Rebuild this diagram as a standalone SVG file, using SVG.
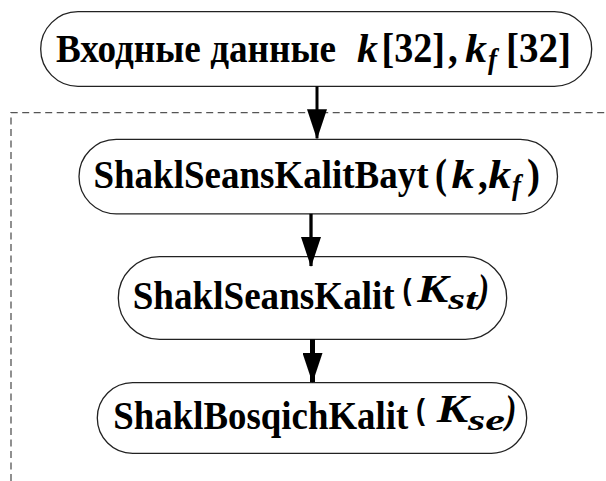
<svg xmlns="http://www.w3.org/2000/svg" width="606" height="481" viewBox="0 0 606 481">
<defs>
<style>
.box{fill:#fff;stroke:#222;stroke-width:1.3}
.t{font-family:"Liberation Serif","Times New Roman",serif;font-weight:bold;font-size:37px;fill:#000}
.m{font-style:normal;font-size:39px}
.mi{font-style:italic;font-size:37px}
.sub{font-style:italic;font-size:27px}
.ps{font-family:"Liberation Sans",Arial,sans-serif;font-style:normal;font-size:27px}
.ar{stroke:#000;fill:none}
.dash{fill:none;stroke:#555;stroke-width:1.3;stroke-dasharray:7 4.5}
</style>
<marker id="ah" markerUnits="userSpaceOnUse" markerWidth="30" markerHeight="20" refX="29" refY="10" orient="auto" viewBox="0 0 30 20">
<path d="M0,0 L30,10 L0,20 Z" fill="#000"/>
</marker>
</defs>
<path class="dash" d="M11,481 V112.7 H606"/>
<g id="n1">
<rect class="box" x="40.7" y="11.7" width="551" height="74.6" rx="37.3" ry="37.3"/>
<text class="t" transform="translate(0,62) scale(1,1.08) translate(0,-62)"><tspan x="56" y="62" textLength="280" lengthAdjust="spacingAndGlyphs">Входные данные</tspan><tspan class="mi" x="357" y="62" textLength="21" lengthAdjust="spacingAndGlyphs">k</tspan><tspan class="m" x="381.5" y="62" textLength="63.5" lengthAdjust="spacingAndGlyphs">[32]</tspan><tspan class="m" x="448" y="62">,</tspan><tspan class="mi" x="465" y="62" textLength="22" lengthAdjust="spacingAndGlyphs">k</tspan><tspan class="sub" x="488" y="68.5">f</tspan><tspan class="m" x="506" y="62" textLength="65" lengthAdjust="spacingAndGlyphs">[32]</tspan></text>
</g>
<g id="n2">
<rect class="box" x="79" y="139.3" width="478.5" height="74.5" rx="37.2" ry="37.2"/>
<text class="t" transform="translate(0,188) scale(1,1.08) translate(0,-188)"><tspan x="93.5" y="188" textLength="335" lengthAdjust="spacingAndGlyphs">ShaklSeansKalitBayt</tspan><tspan class="m" x="435" y="188" textLength="12" lengthAdjust="spacingAndGlyphs">(</tspan><tspan class="mi" x="451.5" y="188" textLength="23" lengthAdjust="spacingAndGlyphs">k</tspan><tspan class="m" x="478" y="188">,</tspan><tspan class="mi" x="488.3" y="188" textLength="23" lengthAdjust="spacingAndGlyphs">k</tspan><tspan class="sub" x="512" y="194.5">f</tspan><tspan class="m" x="527" y="188" textLength="13" lengthAdjust="spacingAndGlyphs">)</tspan></text>
</g>
<g id="n3">
<rect class="box" x="118.3" y="256.7" width="388.4" height="82.6" rx="41.3" ry="41.3"/>
<text class="t" transform="translate(0,309.3) scale(1,1.08) translate(0,-309.3)"><tspan x="132.7" y="309.3" textLength="262" lengthAdjust="spacingAndGlyphs">ShaklSeansKalit</tspan><tspan class="ps" x="402.5" y="300.5" textLength="9" lengthAdjust="spacingAndGlyphs">(</tspan><tspan class="mi" x="417.3" y="302.5" font-size="27" textLength="31" lengthAdjust="spacingAndGlyphs">K</tspan><tspan class="sub" x="448.3" y="309.3" textLength="29" lengthAdjust="spacingAndGlyphs">st</tspan><tspan class="mi" x="478.3" y="303" font-size="25" textLength="11" lengthAdjust="spacingAndGlyphs">)</tspan></text>
</g>
<g id="n4">
<rect class="box" x="97.3" y="382.7" width="429.4" height="70.6" rx="35.3" ry="35.3"/>
<text class="t" transform="translate(0,429.3) scale(1,1.08) translate(0,-429.3)"><tspan x="113.3" y="429.3" textLength="295" lengthAdjust="spacingAndGlyphs">ShaklBosqichKalit</tspan><tspan class="ps" x="416" y="421" textLength="9" lengthAdjust="spacingAndGlyphs">(</tspan><tspan class="mi" x="436.7" y="423" font-size="27" textLength="31.5" lengthAdjust="spacingAndGlyphs">K</tspan><tspan class="sub" x="468" y="430.3" textLength="37" lengthAdjust="spacingAndGlyphs">se</tspan><tspan class="mi" x="505.5" y="423.5" font-size="25" textLength="11" lengthAdjust="spacingAndGlyphs">)</tspan></text>
</g>
<g id="connectors">
<line class="ar" x1="317" y1="86.3" x2="317" y2="138.3" stroke-width="3" marker-end="url(#ah)"/>
<line class="ar" x1="311" y1="213.8" x2="311" y2="266" stroke-width="3.3" marker-end="url(#ah)"/>
<line class="ar" x1="312.5" y1="339.3" x2="312.5" y2="382" stroke-width="5" marker-end="url(#ah)"/>
</g>
</svg>
